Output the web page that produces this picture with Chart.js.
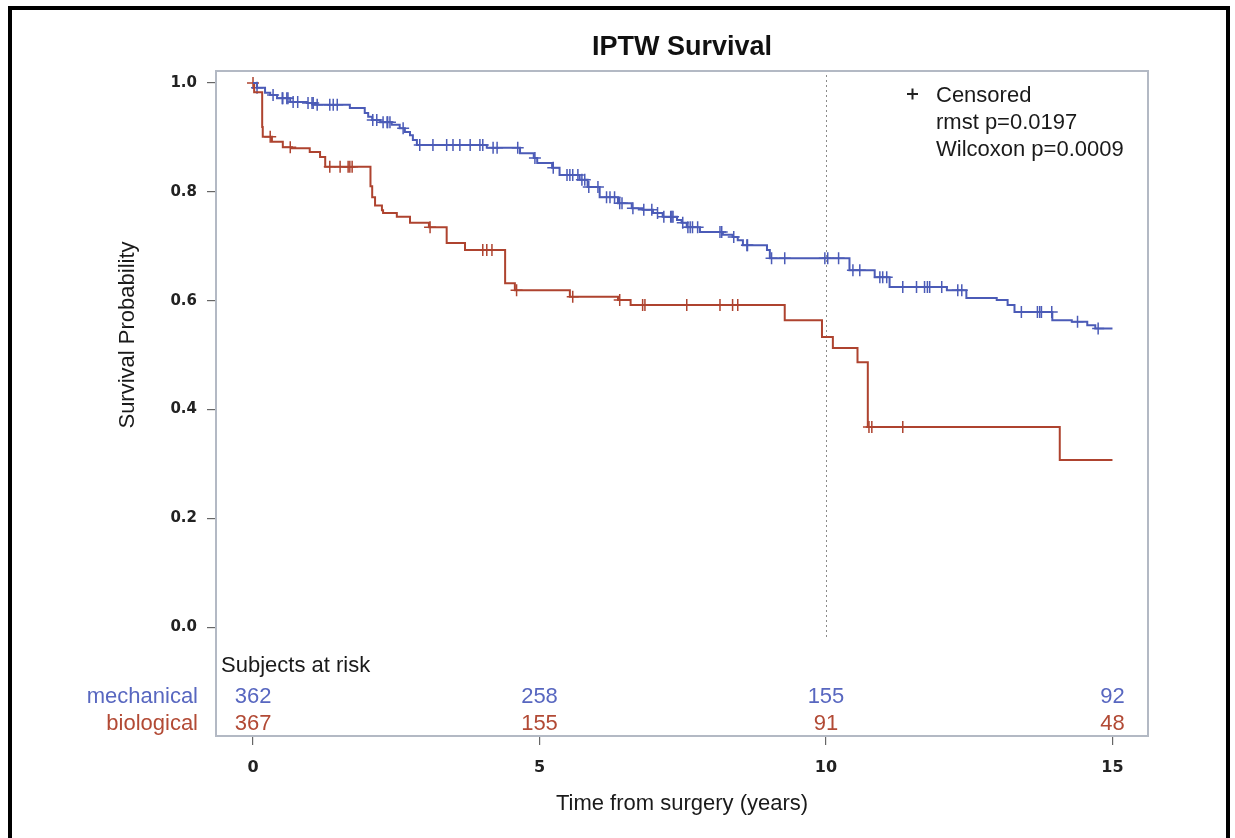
<!DOCTYPE html>
<html>
<head>
<meta charset="utf-8">
<title>IPTW Survival</title>
<script src="https://cdn.jsdelivr.net/npm/chart.js@4.4.1/dist/chart.umd.min.js"></script>
<style>
  html, body { margin: 0; padding: 0; background: #fff; }
</style>
</head>
<body>
<canvas id="km" width="1235" height="838"></canvas>
<script>
// Kaplan-Meier steps: time (years) where survival drops, and the level after the drop
const mechTimes = [0, 0.07, 0.21, 0.30, 0.42, 0.65, 0.94, 1.08, 1.69, 1.95, 2.01, 2.08, 2.22, 2.42, 2.56,
  2.65, 2.74, 2.79, 2.86, 4.08, 4.66, 4.90, 4.96, 5.22, 5.35, 5.70, 5.84, 6.05, 6.37, 6.61,
  6.80, 6.98, 7.15, 7.40, 7.48, 7.57, 7.80, 8.20, 8.37, 8.46, 8.55, 8.97, 9.02, 10.41, 10.85,
  11.11, 12.11, 12.45, 12.98, 13.17, 13.29, 13.95, 14.29, 14.56, 14.70, 15.0];
const mechSurv = [1.0, 0.991, 0.982, 0.978, 0.972, 0.965, 0.963, 0.960, 0.954, 0.945, 0.938, 0.932, 0.928, 0.923, 0.917,
  0.910, 0.904, 0.895, 0.886, 0.881, 0.871, 0.862, 0.853, 0.844, 0.831, 0.822, 0.809, 0.790, 0.779, 0.770,
  0.767, 0.761, 0.754, 0.748, 0.743, 0.735, 0.726, 0.721, 0.717, 0.711, 0.702, 0.693, 0.678, 0.656, 0.643,
  0.625, 0.619, 0.605, 0.601, 0.592, 0.579, 0.564, 0.561, 0.555, 0.549, 0.549];
const mechCensor = [0.07, 0.35, 0.51, 0.52, 0.59, 0.61, 0.70, 0.78, 0.96, 1.03, 1.05, 1.12, 1.34, 1.40, 1.47,
  2.09, 2.16, 2.27, 2.34, 2.35, 2.39, 2.62, 2.91, 3.14, 3.38, 3.49, 3.61, 3.79, 3.96, 4.01, 4.19, 4.26,
  4.62, 4.92, 5.24, 5.48, 5.53, 5.58, 5.67, 5.74, 5.79, 5.86, 6.02, 6.17, 6.23, 6.31, 6.40, 6.44, 6.63,
  6.82, 6.96, 7.06, 7.17, 7.29, 7.31, 7.33, 7.50, 7.59, 7.63, 7.67, 7.76, 8.15, 8.18, 8.39, 8.62, 8.63,
  9.05, 9.28, 9.98, 10.03, 10.22, 10.47, 10.59, 10.94, 10.99, 11.06, 11.34, 11.58, 11.72, 11.77, 11.81,
  12.02, 12.30, 12.37, 13.41, 13.69, 13.73, 13.76, 13.94, 14.39, 14.75];

const bioTimes = [0, 0.02, 0.16, 0.17, 0.33, 0.52, 0.68, 0.99, 1.17, 1.26, 2.05, 2.08, 2.13, 2.25, 2.27,
  2.51, 2.74, 3.07, 3.38, 3.70, 4.40, 4.57, 5.53, 6.37, 6.59, 9.28, 9.93, 10.12, 10.55, 10.73, 14.08, 15.0];
const bioSurv = [1.0, 0.983, 0.919, 0.901, 0.892, 0.882, 0.880, 0.873, 0.864, 0.846, 0.810, 0.790, 0.775, 0.766, 0.761,
  0.754, 0.743, 0.735, 0.706, 0.693, 0.632, 0.619, 0.607, 0.601, 0.592, 0.564, 0.533, 0.513, 0.487, 0.368, 0.307, 0.307];
const bioCensor = [0, 0.30, 0.65, 1.34, 1.52, 1.66, 1.69, 1.73, 3.09, 4.01, 4.08, 4.17, 4.60, 5.58, 6.40,
  6.80, 6.84, 7.57, 8.15, 8.37, 8.46, 10.75, 10.80, 11.34];

// axes and at-risk table
const xTicks = [0, 5, 10, 15];
const yTicks = [0, 0.2, 0.4, 0.6, 0.8, 1.0];
const riskGroups = ['mechanical', 'biological'];
const mechAtRisk = [362, 258, 155, 92];
const bioAtRisk = [367, 155, 91, 48];
const statLines = ['rmst p=0.0197', 'Wilcoxon p=0.0009'];
const refTime = 10;

const BLUE = '#4b5bb7';
const RED = '#ae432f';
const BLUE_TXT = '#5867c0';
const RED_TXT = '#b24a35';
const SANS = '"Liberation Sans", Arial, sans-serif';
const TICKFONT = '"DejaVu Sans", Verdana, sans-serif';

function survAt(times, surv, t) {
  let s = surv[0];
  for (let i = 0; i < times.length; i++) {
    if (times[i] <= t) s = surv[i]; else break;
  }
  return s;
}

const stepPts = (times, surv) => times.map((t, i) => ({ x: t, y: surv[i] }));
const censorPts = (cens, times, surv) => cens.map(t => ({ x: t, y: survAt(times, surv, t) }));

// page frame, plot box and the dotted reference line
const framePlugin = {
  id: 'kmFrame',
  beforeDatasetsDraw(chart) {
    const { ctx, chartArea: a, scales: { x, y } } = chart;
    ctx.save();
    ctx.strokeStyle = '#8a8a8a';
    ctx.lineWidth = 1;
    ctx.setLineDash([2, 3]);
    const xr = Math.round(x.getPixelForValue(refTime)) + 0.5;
    ctx.beginPath();
    ctx.moveTo(xr, a.top + 4);
    ctx.lineTo(xr, y.getPixelForValue(-0.02));
    ctx.stroke();
    ctx.restore();
  },
  afterDraw(chart) {
    const { ctx, chartArea: a } = chart;
    ctx.save();
    ctx.strokeStyle = '#b3b9c4';
    ctx.lineWidth = 2;
    ctx.strokeRect(a.left, a.top, a.right - a.left, a.bottom - a.top);
    ctx.fillStyle = '#000';
    ctx.fillRect(8, 6, 4, 832);
    ctx.fillRect(8, 6, 1222, 4);
    ctx.fillRect(1226, 6, 4, 832);
    ctx.restore();
  }
};

// title, axis titles, inset legend and subjects-at-risk rows
const textPlugin = {
  id: 'kmText',
  afterDraw(chart) {
    const { ctx, chartArea: a, scales: { x } } = chart;
    const cx = (a.left + a.right) / 2;
    ctx.save();
    ctx.textBaseline = 'alphabetic';

    ctx.fillStyle = '#111';
    ctx.textAlign = 'center';
    ctx.font = 'bold 27px ' + SANS;
    ctx.fillText('IPTW Survival', cx, 55);

    ctx.font = '22px ' + SANS;
    ctx.fillStyle = '#1a1a1a';
    ctx.fillText('Time from surgery (years)', cx, 810);

    ctx.save();
    ctx.translate(134, 335);
    ctx.rotate(-Math.PI / 2);
    ctx.fillText('Survival Probability', 0, 0);
    ctx.restore();

    // censored marker legend
    ctx.strokeStyle = '#222';
    ctx.lineWidth = 2;
    ctx.beginPath();
    ctx.moveTo(907, 94); ctx.lineTo(918, 94);
    ctx.moveTo(912.5, 88.5); ctx.lineTo(912.5, 99.5);
    ctx.stroke();
    ctx.textAlign = 'left';
    ctx.fillText('Censored', 936, 102);
    statLines.forEach((s, i) => ctx.fillText(s, 936, 129 + i * 27));

    ctx.fillText('Subjects at risk', 221, 672);

    const rows = [[mechAtRisk, BLUE_TXT, 703], [bioAtRisk, RED_TXT, 730]];
    rows.forEach(([vals, col, yb], r) => {
      ctx.fillStyle = col;
      ctx.textAlign = 'right';
      ctx.fillText(riskGroups[r], 198, yb);
      ctx.textAlign = 'center';
      vals.forEach((v, i) => ctx.fillText(String(v), x.getPixelForValue(xTicks[i]), yb));
    });
    ctx.restore();
  }
};

new Chart(document.getElementById('km'), {
  type: 'line',
  data: {
    datasets: [
      { label: 'mechanical', data: stepPts(mechTimes, mechSurv), borderColor: BLUE, borderWidth: 2,
        stepped: true, pointRadius: 0, fill: false },
      { label: 'biological', data: stepPts(bioTimes, bioSurv), borderColor: RED, borderWidth: 2,
        stepped: true, pointRadius: 0, fill: false },
      { type: 'scatter', label: 'mechanical censored', data: censorPts(mechCensor, mechTimes, mechSurv),
        pointStyle: 'cross', pointRadius: 6, borderColor: BLUE, borderWidth: 1.5, showLine: false },
      { type: 'scatter', label: 'biological censored', data: censorPts(bioCensor, bioTimes, bioSurv),
        pointStyle: 'cross', pointRadius: 6, borderColor: RED, borderWidth: 1.5, showLine: false }
    ]
  },
  options: {
    responsive: false,
    devicePixelRatio: 1,
    animation: false,
    layout: { padding: { top: 71, right: 87, left: 0, bottom: 0 } },
    plugins: { legend: { display: false }, tooltip: { enabled: false }, title: { display: false } },
    scales: {
      x: {
        type: 'linear',
        min: -0.646,
        max: 15.62,
        afterBuildTicks: s => { s.ticks = xTicks.map(v => ({ value: v })); },
        afterFit: s => { s.height = 102; },
        grid: { drawOnChartArea: false, drawTicks: true, tickLength: 9, color: '#666', lineWidth: 1.2 },
        border: { display: false },
        ticks: { autoSkip: false, maxRotation: 0, padding: 13, color: '#222',
          font: { family: TICKFONT, size: 16, weight: 'bold' } }
      },
      y: {
        min: -0.2,
        max: 1.022,
        afterBuildTicks: s => { s.ticks = yTicks.map(v => ({ value: v })); },
        afterFit: s => { s.width = 216; },
        grid: { drawOnChartArea: false, drawTicks: true, tickLength: 9, color: '#666', lineWidth: 1.2 },
        border: { display: false },
        ticks: { padding: 10, color: '#222', callback: v => Number(v).toFixed(1),
          font: { family: TICKFONT, size: 15, weight: 'bold' } }
      }
    }
  },
  plugins: [framePlugin, textPlugin]
});
</script>
</body>
</html>
